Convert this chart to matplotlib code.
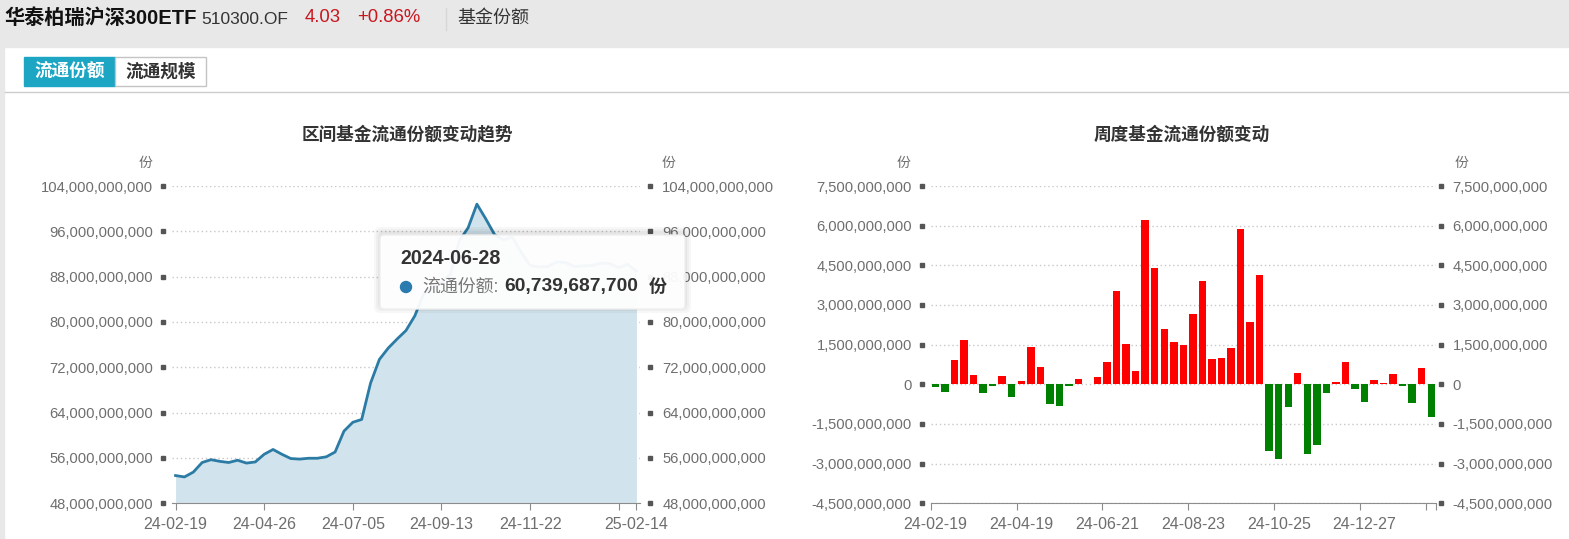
import pandas as pd
import matplotlib.pyplot as plt
import matplotlib.transforms as mtransforms
from matplotlib.patches import Rectangle, FancyBboxPatch, Circle
from matplotlib.lines import Line2D

plt.rcParams['font.family'] = ['Liberation Sans', 'Noto Sans CJK SC', 'DejaVu Sans']

# weekly categories: start date then every Friday
dates = ['24-02-19'] + list(pd.date_range('2024-02-23', '2025-02-14', freq='W-FRI').strftime('%y-%m-%d'))

# 流通份额 (in billions of 份)
share_vals = [52.9, 52.65, 53.5, 55.2, 55.7, 55.4, 55.2, 55.6, 55.1, 55.3,
              56.65, 57.5, 56.65, 55.9, 55.8, 55.95, 55.95, 56.2, 57.05, 60.74,
              62.3, 62.8, 69.2, 73.4, 75.4, 77.0, 78.5, 81.1, 85.0, 86.0,
              87.0, 88.4, 94.3, 96.6, 100.8, 98.2, 95.4, 94.5, 95.0, 92.3,
              90.0, 89.7, 89.8, 90.6, 90.5, 89.8, 89.9, 90.0, 90.4, 90.3,
              89.6, 90.2, 89.0]

# weekly change (in billions of 份)
change_vals = [-0.10, -0.28, 0.91, 1.68, 0.37, -0.33, -0.06, 0.32, -0.49, 0.14,
               1.41, 0.67, -0.76, -0.83, -0.08, 0.19, 0.01, 0.28, 0.85, 3.53,
               1.54, 0.52, 6.23, 4.40, 2.09, 1.60, 1.47, 2.66, 3.91, 0.95,
               1.01, 1.39, 5.87, 2.34, 4.15, -2.52, -2.84, -0.86, 0.41, -2.62,
               -2.29, -0.34, 0.09, 0.86, -0.18, -0.67, 0.15, 0.04, 0.39, -0.06,
               -0.70, 0.61, -1.23]

left_ticks = [48e9, 56e9, 64e9, 72e9, 80e9, 88e9, 96e9, 104e9]
right_ticks = [-4.5e9, -3e9, -1.5e9, 0, 1.5e9, 3e9, 4.5e9, 6e9, 7.5e9]

tip_date = '2024-06-28'
tip_value = '60,739,687,700'

W, H = 1569, 539
GRAY = '#6e6e6e'
fig = plt.figure(figsize=(W / 100, H / 100), dpi=100)
fig.patch.set_facecolor('white')


def fx(px):
    return px / W


def fy(py):
    return 1 - py / H


# page frame
fig.patches.append(Rectangle((0, fy(47)), 1, 47 / H, transform=fig.transFigure, color='#e8e8e9', zorder=0))
fig.patches.append(Rectangle((0, 0), fx(4), fy(47), transform=fig.transFigure, color='#e8e8e9', zorder=0))
fig.lines.append(Line2D([fx(5), 1], [fy(92), fy(92)], transform=fig.transFigure, color='#cccccc', lw=1))

# header
fig.text(fx(4), fy(18), '华泰柏瑞沪深300ETF', fontsize=14.5, fontweight='bold', color='#111111', va='center')
fig.text(fx(201), fy(19), '510300.OF', fontsize=12.5, color='#333333', va='center')
fig.text(fx(305), fy(18), '4.03', fontsize=13.3, color='#c8161d', va='center')
fig.text(fx(357), fy(18), '+0.86%', fontsize=13.3, color='#c8161d', va='center')
fig.lines.append(Line2D([fx(446), fx(446)], [fy(8), fy(30)], transform=fig.transFigure, color='#d6d6d6', lw=1))
fig.text(fx(457), fy(18), '基金份额', fontsize=13, color='#333333', va='center')

# tabs
fig.patches.append(Rectangle((fx(24), fy(86)), fx(91), 29 / H, transform=fig.transFigure,
                             facecolor='#1ca6c4', edgecolor='#1ca6c4', zorder=1))
fig.patches.append(Rectangle((fx(115), fy(86)), fx(91), 29 / H, transform=fig.transFigure,
                             facecolor='white', edgecolor='#c4c4c4', lw=1, zorder=1))
fig.text(fx(70), fy(71.5), '流通份额', fontsize=12.7, fontweight='bold', color='white', ha='center', va='center')
fig.text(fx(161), fy(71.5), '流通规模', fontsize=12.7, fontweight='bold', color='#333333', ha='center', va='center')

# chart titles
fig.text(fx(407), fy(135), '区间基金流通份额变动趋势', fontsize=12.7, fontweight='bold', color='#333333', ha='center', va='center')
fig.text(fx(1182), fy(135), '周度基金流通份额变动', fontsize=12.7, fontweight='bold', color='#333333', ha='center', va='center')


def style_axes(ax, twin, ticks, lpad, rpad, sq_left, sq_right):
    for a in (ax, twin):
        for s in ['top', 'left', 'right', 'bottom']:
            a.spines[s].set_visible(False)
        a.set_ylim(ticks[0], ticks[-1])
        a.set_yticks(ticks)
        a.set_yticklabels([f'{v:,.0f}' for v in ticks])
        a.tick_params(axis='y', length=0, labelsize=10.6, labelcolor=GRAY)
    ax.tick_params(axis='y', pad=lpad)
    twin.tick_params(axis='y', pad=rpad)
    ax.grid(axis='y', color='#c8c8c8', linestyle=(0, (1, 2)), lw=1)
    ax.set_axisbelow(True)
    tr = mtransforms.blended_transform_factory(fig.transFigure, ax.transData)
    for px in (sq_left, sq_right):
        ax.plot([fx(px)] * len(ticks), ticks, 's', ms=3.2, color='#555555', transform=tr, clip_on=False)
    ax.spines['bottom'].set_visible(True)
    ax.spines['bottom'].set_color('#8c8c8c')
    ax.tick_params(axis='x', which='both', colors='#8c8c8c', labelcolor=GRAY, labelsize=11.5, length=5, pad=5)


# left: line / area chart
x = list(range(len(dates)))
share = [v * 1e9 for v in share_vals]
ax1 = fig.add_axes([fx(172), fy(503.3), fx(640) - fx(172), (503.3 - 186) / H])
ax1r = ax1.twinx()
ax1.fill_between(x, share, 48e9, color='#d1e3ec', lw=0, zorder=2)
ax1.plot(x, share, color='#2b7ba5', lw=2, zorder=3)
ax1.set_xlim(-0.4, 52.4)
style_axes(ax1, ax1r, left_ticks, 13.5, 16, 163, 650)
lt = [0, 10, 20, 30, 40, 50, 52]
ax1.set_xticks(lt)
ax1.set_xticklabels([dates[i] if i != 50 else '' for i in lt])
fig.text(fx(145), fy(163), '份', fontsize=10, color=GRAY, ha='center', va='center')
fig.text(fx(668), fy(163), '份', fontsize=10, color=GRAY, ha='center', va='center')

# right: weekly change bars
change = [v * 1e9 for v in change_vals]
ax2 = fig.add_axes([fx(930.7), fy(503.3), fx(1436) - fx(930.7), (503.3 - 186) / H])
ax2r = ax2.twinx()
colors = ['#ff0000' if v >= 0 else '#008000' for v in change]
ax2.bar(x, change, width=0.78, color=colors, zorder=3)
ax2.set_xlim(-0.5, 52.5)
style_axes(ax2, ax2r, right_ticks, 13.5, 12, 922, 1441)
ax2.set_xticks([-0.5, 8.5, 17.5, 26.5, 35.5, 44.5, 51.5, 52.5])
ax2.set_xticklabels([])
ax2.set_xticks([0, 9, 18, 27, 36, 45], minor=True)
ax2.set_xticklabels([dates[i] for i in [0, 9, 18, 27, 36, 45]], minor=True)
ax2.tick_params(axis='x', which='minor', length=0, pad=10)
fig.text(fx(903), fy(163), '份', fontsize=10, color=GRAY, ha='center', va='center')
fig.text(fx(1461), fy(163), '份', fontsize=10, color=GRAY, ha='center', va='center')

# tooltip (covers part of the right axis labels, as in the source screenshot)
for i, a in enumerate([0.03, 0.03, 0.04]):
    g = 6 - 2 * i
    fig.patches.append(FancyBboxPatch((380 - g, H - 309 - g + 2), 305 + 2 * g, 74 + 2 * g,
                                      boxstyle='round,pad=0,rounding_size=6', transform=None,
                                      facecolor='black', edgecolor='none', alpha=a, zorder=5))
fig.patches.append(FancyBboxPatch((380, H - 309), 305, 74, boxstyle='round,pad=0,rounding_size=4',
                                  transform=None, facecolor='white', edgecolor='#eeeeee', alpha=0.95, zorder=6))
fig.patches.append(Circle((406, H - 287), 5.5, transform=None, color='#2a7bb0', zorder=7))
fig.text(fx(400), fy(258), tip_date, fontsize=14.2, fontweight='bold', color='#333333', va='center', zorder=8)
fig.text(fx(422), fy(287), '流通份额:', fontsize=12.9, color='#777777', va='center', zorder=8)
fig.text(fx(504), fy(287), tip_value, fontsize=13.9, fontweight='bold', color='#333333', va='center', zorder=8)
fig.text(fx(649), fy(287), '份', fontsize=13, fontweight='bold', color='#333333', va='center', zorder=8)

fig.savefig('out.png', dpi=100)
